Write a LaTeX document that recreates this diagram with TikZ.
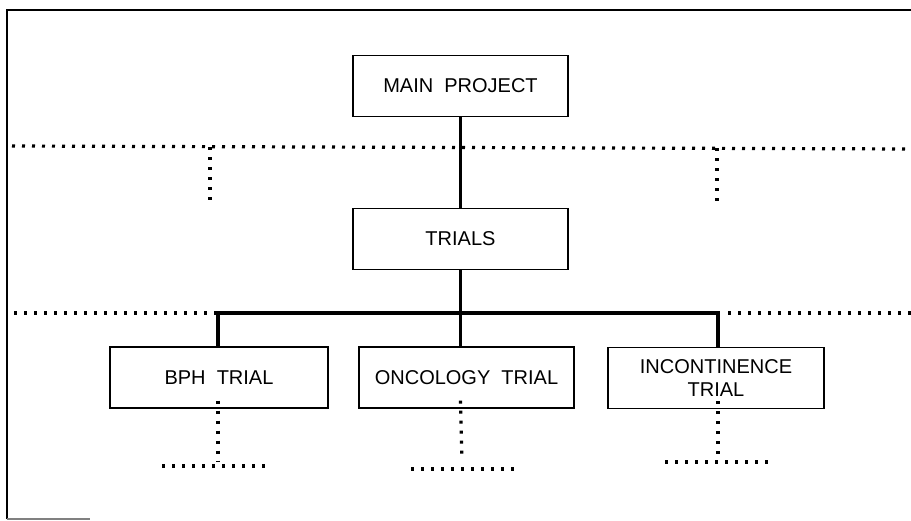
\documentclass[tikz,border=0pt]{standalone}
\usepackage{fontspec}
\setmainfont{Liberation Sans}
\usetikzlibrary{positioning}

\tikzset{
  box/.style={draw=black, line width=1.3pt, minimum width=215pt, minimum height=61pt, inner sep=2pt, align=center, font=\fontsize{20}{23}\selectfont},
  bus/.style={black, line width=3.6pt},
  dots/.style={black, line width=3.2pt, dash pattern=on 3pt off 7pt},
  frame/.style={black, line width=1.8pt}
}

\begin{document}
\begin{tikzpicture}[x=1pt, y=-1pt]
\useasboundingbox (0,0) rectangle (911,520);

%frame
\draw[frame] (7,519) -- (7,10) -- (911,10);
\draw[frame, gray] (7,519) -- (90,519);

%boxes
\node[box] (main) at (460.5,86) {MAIN\ \ PROJECT};
\node[box] (trials) at (460.5,239) {TRIALS};
\node[box, minimum width=218pt] (bph) at (219,377.5) {BPH\ \ TRIAL};
\node[box] (onc) at (466.5,377.5) {ONCOLOGY\ \ TRIAL};
\node[box, minimum width=216pt] (incont) at (716,378) {INCONTINENCE\\TRIAL};

%bus
\coordinate (busL) at (218,313);
\coordinate (busR) at (718,313);
\draw[bus] (main.south) -- (trials.north);
\draw[bus] (trials.south) -- (trials.south |- busL);
\draw[bus] (bph.north -| busL) -- (busL) -- (busR) -- (incont.north -| busR);
\draw[bus] (trials.south |- busL) -- (onc.north -| trials.south);

%upper dotted level
\coordinate (upL) at (12,146);
\coordinate (upR) at (911,149);
\draw[dots] (upL) -- (upR);
\draw[dots] (210,147) -- (210,200);
\draw[dots] (717,148) -- (717,202);

%middle dotted level
\draw[dots] (14,313) -- (busL);
\draw[dots] ([xshift=10pt]busR) -- (911,313);

%lower dotted stubs
\draw[dots] ([yshift=8pt]bph.south -| busL) -- (218,462);
\draw[dots] (162,466) -- (272,466);
\draw[dots] ([yshift=8pt]onc.south -| trials.south) -- (462,460);
\draw[dots] (411,469) -- (519,469);
\draw[dots] ([yshift=8pt]incont.south -| busR) -- (718,454);
\draw[dots] (665,462) -- (773,462);

\end{tikzpicture}
\end{document}
